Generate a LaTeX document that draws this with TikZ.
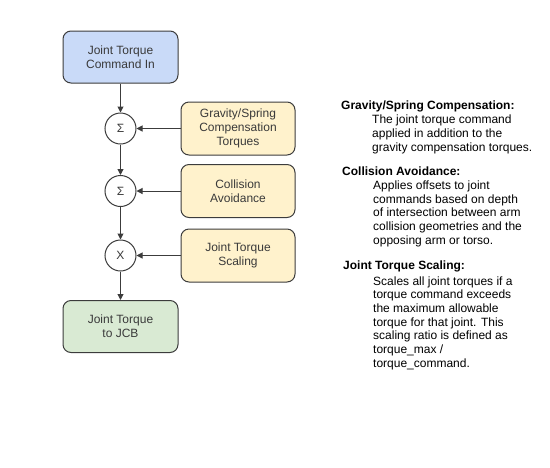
\documentclass[tikz,border=0pt]{standalone}
\usepackage{fontspec}
\setmainfont{Liberation Sans}
\usetikzlibrary{arrows.meta}
\definecolor{bluefill}{HTML}{C9DAF8}
\definecolor{yellowfill}{HTML}{FFF2CC}
\definecolor{greenfill}{HTML}{D9EAD3}
\definecolor{edgegray}{HTML}{3C3C3C}
\definecolor{boxtext}{HTML}{3A3A3A}
\tikzset{
  blk/.style={draw=edgegray, line width=1pt, rounded corners=8pt, minimum width=115pt, minimum height=52pt, inner sep=0pt, align=center, text=boxtext, font=\fontsize{12}{14}\selectfont},
  opnode/.style={draw=edgegray, line width=1pt, circle, fill=white, minimum size=31pt, inner sep=0pt, text=boxtext, font=\fontsize{12}{14}\selectfont},
  conn/.style={draw=edgegray, line width=1pt, -{Triangle[length=6pt,width=6pt]}},
  hdr/.style={anchor=base west, inner sep=0pt, font=\fontsize{12}{14}\selectfont\bfseries},
  bodyline/.style={anchor=base west, inner sep=0pt, font=\fontsize{12}{14}\selectfont},
}
\begin{document}
\begin{tikzpicture}[x=1pt,y=-1pt]
\useasboundingbox (0,0) rectangle (550,467);
% left column
\node[blk, fill=bluefill] (cmdin) at (120.5,57) {Joint Torque\\Command In};
\node[opnode] (sum1) at (120.5,128.5) {Σ};
\node[opnode] (sum2) at (120.5,191) {Σ};
\node[opnode] (mul) at (120.5,255.5) {X};
\node[blk, fill=greenfill] (out) at (120.5,326.5) {Joint Torque\\to JCB};
% right column boxes
\node[blk, fill=yellowfill, minimum width=114pt, minimum height=53pt] (grav) at (238,128.5) {Gravity/Spring\\Compensation\\Torques};
\node[blk, fill=yellowfill, minimum width=114pt, minimum height=53pt] (coll) at (238,191) {Collision\\Avoidance};
\node[blk, fill=yellowfill, minimum width=114pt, minimum height=53pt] (scal) at (238,255.5) {Joint Torque\\Scaling};
% connectors
\draw[conn] (cmdin) -- (sum1);
\draw[conn] (sum1) -- (sum2);
\draw[conn] (sum2) -- (mul);
\draw[conn] (mul) -- (out);
\draw[conn] (grav) -- (sum1);
\draw[conn] (coll) -- (sum2);
\draw[conn] (scal) -- (mul);
% descriptions
\node[hdr] (h1) at (341,109) {Gravity/Spring Compensation:};
\node[bodyline] (b1a) at (372,123) {The joint torque command};
\node[bodyline] (b1b) at (372,137) {applied in addition to the};
\node[bodyline] (b1c) at (372,151) {gravity compensation torques.};
\node[hdr] (h2) at (342,175) {Collision Avoidance:};
\node[bodyline] (b2a) at (373,189.5) {Applies offsets to joint};
\node[bodyline] (b2b) at (373,203.2) {commands based on depth};
\node[bodyline] (b2c) at (373,216.9) {of intersection between arm};
\node[bodyline] (b2d) at (373,230.6) {collision geometries and the};
\node[bodyline] (b2e) at (373,244.3) {opposing arm or torso.};
\node[hdr] (h3) at (343,269) {Joint Torque Scaling:};
\node[bodyline] (b3a) at (373,285) {Scales all joint torques if a};
\node[bodyline] (b3b) at (373,298.7) {torque command exceeds};
\node[bodyline] (b3c) at (373,312.4) {the maximum allowable};
\node[bodyline] (b3d) at (373,326.1) {torque for that joint. This};
\node[bodyline] (b3e) at (373,339.8) {scaling ratio is defined as};
\node[bodyline] (b3f) at (373,353.5) {torque\_max /};
\node[bodyline] (b3g) at (373,367.2) {torque\_command.};
\end{tikzpicture}
\end{document}
